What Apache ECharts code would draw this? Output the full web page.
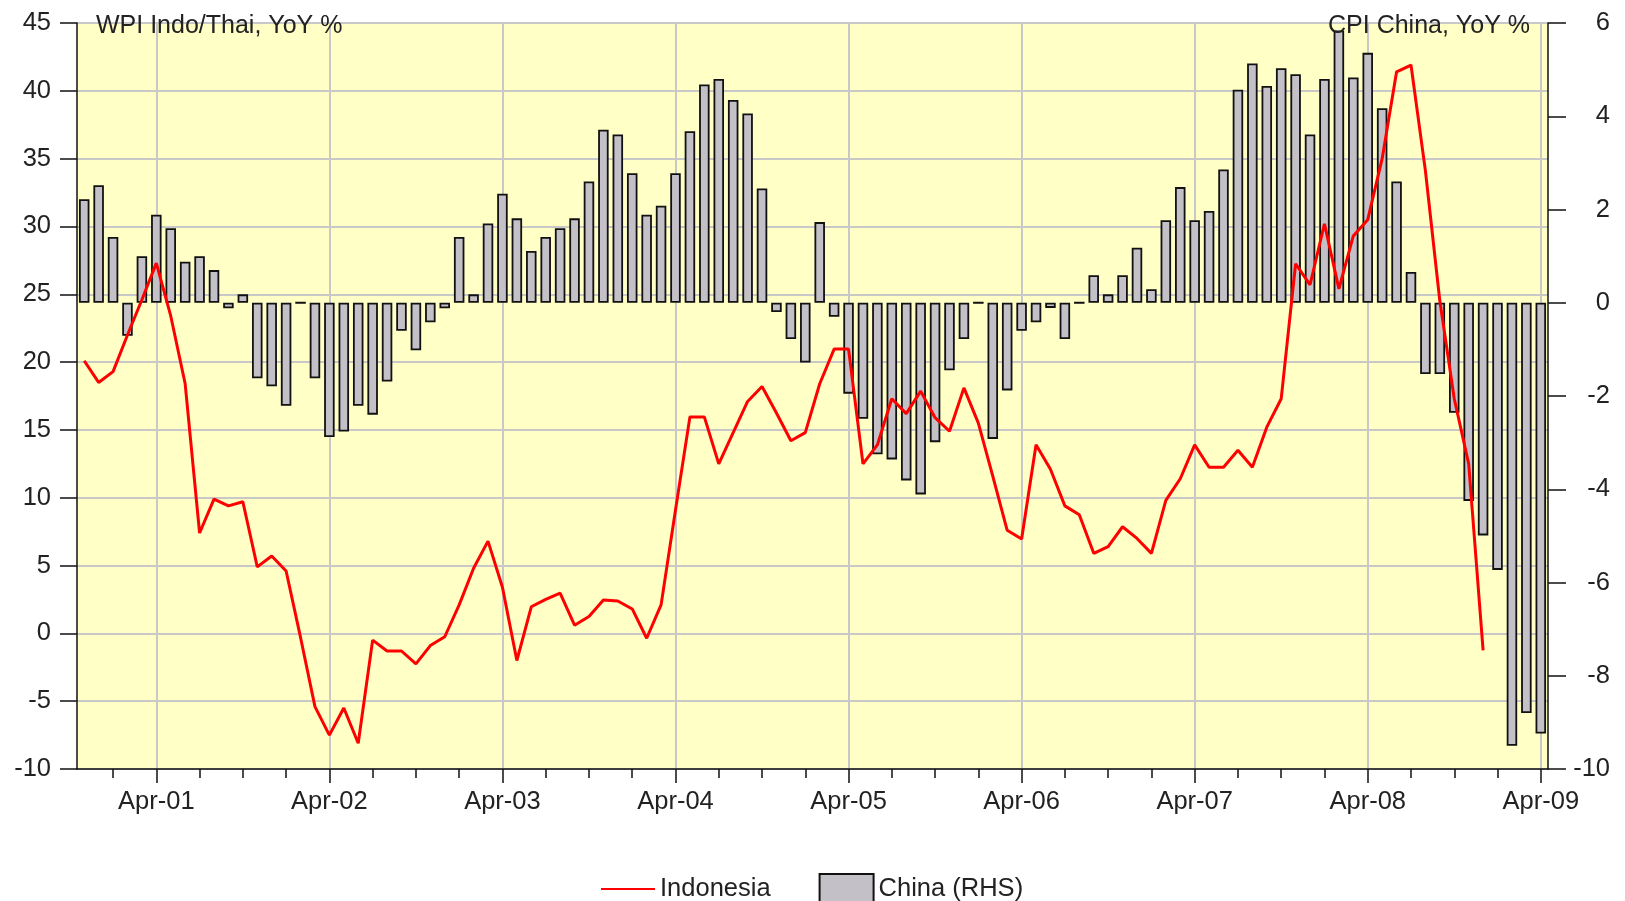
<!DOCTYPE html>
<html>
<head>
<meta charset="utf-8">
<script src="https://cdn.jsdelivr.net/npm/echarts@6/dist/echarts.min.js"></script>
<style>
html,body{margin:0;padding:0;background:#fff;}
#chart{width:1625px;height:901px;}
</style>
</head>
<body>
<div id="chart"></div>
<script>
// Monthly categories, Nov-00 .. Apr-09
const categories = [
  'Nov-00','Dec-00',
  'Jan-01','Feb-01','Mar-01','Apr-01','May-01','Jun-01','Jul-01','Aug-01','Sep-01','Oct-01','Nov-01','Dec-01',
  'Jan-02','Feb-02','Mar-02','Apr-02','May-02','Jun-02','Jul-02','Aug-02','Sep-02','Oct-02','Nov-02','Dec-02',
  'Jan-03','Feb-03','Mar-03','Apr-03','May-03','Jun-03','Jul-03','Aug-03','Sep-03','Oct-03','Nov-03','Dec-03',
  'Jan-04','Feb-04','Mar-04','Apr-04','May-04','Jun-04','Jul-04','Aug-04','Sep-04','Oct-04','Nov-04','Dec-04',
  'Jan-05','Feb-05','Mar-05','Apr-05','May-05','Jun-05','Jul-05','Aug-05','Sep-05','Oct-05','Nov-05','Dec-05',
  'Jan-06','Feb-06','Mar-06','Apr-06','May-06','Jun-06','Jul-06','Aug-06','Sep-06','Oct-06','Nov-06','Dec-06',
  'Jan-07','Feb-07','Mar-07','Apr-07','May-07','Jun-07','Jul-07','Aug-07','Sep-07','Oct-07','Nov-07','Dec-07',
  'Jan-08','Feb-08','Mar-08','Apr-08','May-08','Jun-08','Jul-08','Aug-08','Sep-08','Oct-08','Nov-08','Dec-08',
  'Jan-09','Feb-09','Mar-09','Apr-09'
];

// Month labels shown on the x axis
const tickLabels = ['Apr-01','Apr-02','Apr-03','Apr-04','Apr-05','Apr-06','Apr-07','Apr-08','Apr-09'];
// Months carrying a short (quarterly) tick
const quarterMonths = ['Jan','Apr','Jul','Oct'];

// China CPI, YoY % (right axis)
const china = [
  2.22, 2.52,
  1.41, -0.71, 1.00, 1.89, 1.60, 0.88, 1.00, 0.70, -0.12, 0.18, -1.62, -1.79,
  -2.21, 0, -1.62, -2.88, -2.76, -2.21, -2.40, -1.69, -0.60, -1.02, -0.42, -0.12,
  1.41, 0.18, 1.70, 2.34, 1.81, 1.11, 1.41, 1.60, 1.81, 2.60, 3.71, 3.61,
  2.78, 1.89, 2.08, 2.78, 3.68, 4.68, 4.80, 4.35, 4.06, 2.45, -0.20, -0.78,
  -1.28, 1.73, -0.30, -1.95, -2.49, -3.25, -3.36, -3.81, -4.11, -2.99, -1.45, -0.78,
  0, -2.92, -1.88, -0.60, -0.42, -0.11, -0.78, 0, 0.59, 0.18, 0.59, 1.18,
  0.29, 1.77, 2.48, 1.77, 1.97, 2.86, 4.57, 5.13, 4.65, 5.03, 4.90, 3.61,
  4.80, 5.84, 4.83, 5.36, 4.17, 2.60, 0.66, -1.53, -1.53, -2.36, -4.25, -4.99,
  -5.73, -9.50, -8.80, -9.24
];

// Indonesia WPI, YoY % (left axis), Nov-00 .. Dec-08
const indonesia = [
  20.1, 18.5,
  19.3, 22.0, 24.6, 27.3, 23.4, 18.4, 7.4, 9.9, 9.4, 9.7, 4.9, 5.7,
  4.6, -0.3, -5.4, -7.5, -5.5, -8.1, -0.5, -1.3, -1.3, -2.25, -0.9, -0.25,
  2.1, 4.8, 6.8, 3.4, -2.0, 1.96, 2.5, 2.96, 0.6, 1.25, 2.46, 2.39,
  1.8, -0.36, 2.1, 9.1, 15.96, 15.96, 12.5, 14.8, 17.1, 18.2, 16.25, 14.2,
  14.8, 18.4, 20.96, 20.96, 12.5, 13.9, 17.3, 16.2, 17.86, 15.9, 14.9, 18.1,
  15.5, 11.6, 7.6, 6.96, 13.9, 12.1, 9.4, 8.75, 5.9, 6.4, 7.86, 7.0,
  5.9, 9.8, 11.4, 13.9, 12.25, 12.25, 13.5, 12.25, 15.2, 17.3, 27.25, 25.7,
  30.2, 25.4, 29.3, 30.5, 35.0, 41.4, 41.9, 34.1, 24.5, 17.3, 12.5, -1.25
];

const FONT = '"Liberation Sans", Arial, sans-serif';
const TXT = '#222222';
const AX = '#111111';
const GRID = '#c8c8c8';

const isMajor = (idx) => tickLabels.indexOf(categories[idx]) >= 0;
const isQuarter = (idx) => quarterMonths.indexOf(categories[idx].slice(0, 3)) >= 0;

const chart = echarts.init(document.getElementById('chart'), null, {renderer: 'canvas'});
chart.setOption({
  animation: false,
  backgroundColor: '#ffffff',
  textStyle: {fontFamily: FONT},
  title: [
    {text: 'WPI Indo/Thai, YoY %', left: 91, top: 9,
     textStyle: {fontFamily: FONT, fontSize: 25, fontWeight: 'normal', color: TXT}},
    {text: 'CPI China, YoY %', right: 90, top: 9,
     textStyle: {fontFamily: FONT, fontSize: 25, fontWeight: 'normal', color: TXT}}
  ],
  legend: {
    left: 595, top: 868,
    itemWidth: 54, itemHeight: 30, itemGap: 48,
    textStyle: {fontFamily: FONT, fontSize: 25.5, color: TXT},
    data: [
      {name: 'Indonesia', itemStyle: {opacity: 0}},
      {name: 'China (RHS)', icon: 'rect'}
    ]
  },
  grid: {
    left: 77, right: 77, top: 23, bottom: 132,
    show: true, backgroundColor: '#ffffc6', borderWidth: 0
  },
  xAxis: [
    {
      type: 'category', data: categories, boundaryGap: true, position: 'bottom',
      axisLine: {show: true, onZero: false, lineStyle: {color: AX, width: 1.5}},
      axisTick: {show: true, alignWithLabel: true, interval: isMajor, length: 14,
                 lineStyle: {color: AX, width: 1.5}},
      axisLabel: {show: true, interval: isMajor, margin: 20, fontFamily: FONT,
                  fontSize: 25.5, color: TXT},
      splitLine: {show: true, alignWithLabel: true, interval: isMajor,
                  lineStyle: {color: GRID, width: 2}}
    },
    {
      type: 'category', data: categories, boundaryGap: true, position: 'bottom',
      axisLine: {show: false, onZero: false},
      axisTick: {show: true, alignWithLabel: true, interval: isQuarter, length: 9,
                 lineStyle: {color: AX, width: 1.5}},
      axisLabel: {show: false},
      splitLine: {show: false}
    }
  ],
  yAxis: [
    {
      type: 'value', position: 'left', min: -10, max: 45, interval: 5,
      axisLine: {show: true, lineStyle: {color: AX, width: 1.5}},
      axisTick: {show: true, length: 17, lineStyle: {color: AX, width: 1.5}},
      axisLabel: {margin: 26, fontFamily: FONT, fontSize: 25.5, color: TXT},
      splitLine: {show: true, lineStyle: {color: GRID, width: 2}}
    },
    {
      type: 'value', position: 'right', min: -10, max: 6, interval: 2,
      axisLine: {show: true, lineStyle: {color: AX, width: 1.5}},
      axisTick: {show: true, length: 18, lineStyle: {color: AX, width: 1.5}},
      axisLabel: {margin: 62, align: 'right', fontFamily: FONT, fontSize: 25.5, color: TXT},
      splitLine: {show: false}
    }
  ],
  series: [
    {
      name: 'China (RHS)', type: 'bar', xAxisIndex: 0, yAxisIndex: 1,
      data: china, barWidth: 10.5,
      itemStyle: {color: '#c3c1c7', borderColor: '#111111', borderWidth: 1.8},
      z: 2
    },
    {
      name: 'Indonesia', type: 'line', xAxisIndex: 0, yAxisIndex: 0,
      data: indonesia, symbol: 'none', showSymbol: false,
      lineStyle: {color: '#ff0000', width: 3},
      itemStyle: {color: '#ff0000'},
      z: 3
    }
  ]
});
</script>
</body>
</html>
